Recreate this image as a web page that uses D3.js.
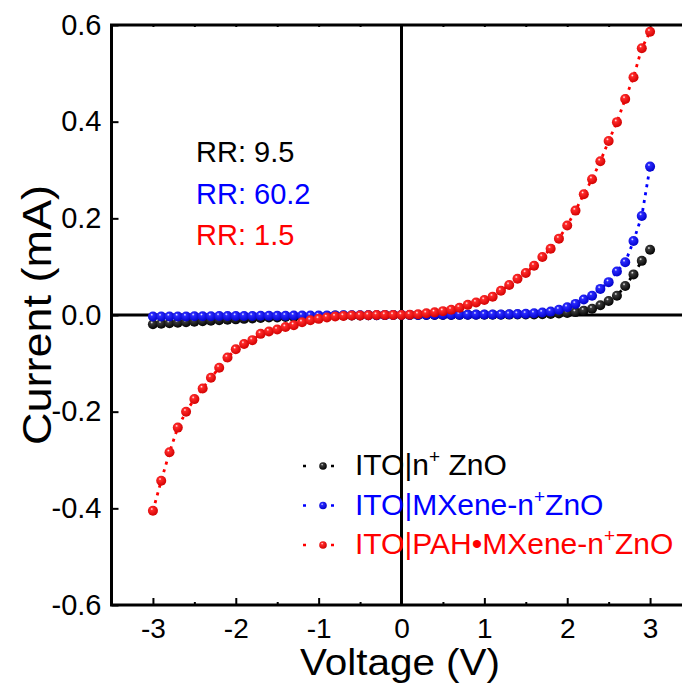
<!DOCTYPE html>
<html>
<head>
<meta charset="utf-8">
<script src="https://cdn.jsdelivr.net/npm/d3@7"></script>
<style>
  body { margin: 0; background: #fff; }
  text { font-family: "Liberation Sans", Arial, sans-serif; }
</style>
</head>
<body>
<div id="chart-div"></div>
<script>
// chart size, same as the window
const CHART_WIDTH = 682;
const CHART_HEIGHT = 685;
const PLOT = { left: 111.5, top: 25, right: 691.5, bottom: 605 };

// bias voltage, V (every 0.1 V)
const voltage = [
  -3.0, -2.9, -2.8, -2.7, -2.6, -2.5, -2.4, -2.3, -2.2, -2.1,
  -2.0, -1.9, -1.8, -1.7, -1.6, -1.5, -1.4, -1.3, -1.2, -1.1,
  -1.0, -0.9, -0.8, -0.7, -0.6, -0.5, -0.4, -0.3, -0.2, -0.1,
  0.0, 0.1, 0.2, 0.3, 0.4, 0.5, 0.6, 0.7, 0.8, 0.9,
  1.0, 1.1, 1.2, 1.3, 1.4, 1.5, 1.6, 1.7, 1.8, 1.9,
  2.0, 2.1, 2.2, 2.3, 2.4, 2.5, 2.6, 2.7, 2.8, 2.9, 3.0
];

// current, mA
const currentZnO = [
  -0.019, -0.018, -0.017, -0.016, -0.015, -0.014, -0.013, -0.012, -0.011, -0.010,
  -0.009, -0.008, -0.007, -0.006, -0.005, -0.005, -0.004, -0.004, -0.003, -0.003,
  -0.002, -0.002, -0.001, -0.001, -0.001, -0.001, -0.0005, -0.0005, 0, 0,
  0, 0, 0, 0, 0, 0, 0.0002, 0.0003, 0.0004, 0.0005,
  0.0005, 0.0006, 0.0007, 0.0008, 0.0009, 0.001, 0.0012, 0.0015, 0.002, 0.003,
  0.004, 0.006, 0.009, 0.013, 0.020, 0.029, 0.040, 0.060, 0.084, 0.112, 0.135
];

const currentMXene = [
  -0.003, -0.003, -0.003, -0.003, -0.003, -0.0025, -0.0025, -0.0025, -0.002, -0.002,
  -0.002, -0.002, -0.002, -0.0015, -0.0015, -0.0015, -0.0015, -0.001, -0.001, -0.001,
  -0.001, -0.001, -0.0008, -0.0006, -0.0005, -0.0005, -0.0004, -0.0003, -0.0002, -0.0001,
  0, 0.0001, 0.0002, 0.0003, 0.0004, 0.0005, 0.0005, 0.0006, 0.0007, 0.0008,
  0.0009, 0.001, 0.0012, 0.0015, 0.002, 0.0025, 0.0035, 0.005, 0.007, 0.011,
  0.016, 0.023, 0.032, 0.040, 0.054, 0.068, 0.090, 0.109, 0.153, 0.205, 0.307
];

const currentPAH = [
  -0.405, -0.343, -0.284, -0.233, -0.200, -0.174, -0.152, -0.130, -0.109, -0.088,
  -0.071, -0.060, -0.052, -0.039, -0.034, -0.030, -0.025, -0.021, -0.015, -0.011,
  -0.008, -0.005, -0.003, -0.002, -0.001, -0.001, -0.0005, 0, 0, 0,
  0, 0.0005, 0.0015, 0.0035, 0.0055, 0.008, 0.011, 0.015, 0.021, 0.026,
  0.031, 0.038, 0.050, 0.062, 0.075, 0.087, 0.102, 0.120, 0.137, 0.158,
  0.185, 0.216, 0.250, 0.281, 0.318, 0.360, 0.399, 0.447, 0.492, 0.552, 0.586
];

const seriesNames = ["ITO|n+ ZnO", "ITO|MXene-n+ZnO", "ITO|PAH\u2022MXene-n+ZnO"];
const seriesColors = ["#000000", "#0000ff", "#ff0000"];
const rectRatios = ["RR: 9.5", "RR: 60.2", "RR: 1.5"];

const xTicks = [-3, -2, -1, 0, 1, 2, 3];
const xMinorTicks = [-3.5, -2.5, -1.5, -0.5, 0.5, 1.5, 2.5, 3.5];
const yTicks = [-0.6, -0.4, -0.2, 0.0, 0.2, 0.4, 0.6];

const allSeries = [currentZnO, currentMXene, currentPAH];

const svg = d3.select("#chart-div").append("svg")
  .attr("width", CHART_WIDTH)
  .attr("height", CHART_HEIGHT);

const xscale = d3.scaleLinear().domain([-3.5, 3.5]).range([PLOT.left, PLOT.right]);
const yscale = d3.scaleLinear().domain([-0.6, 0.6]).range([PLOT.bottom, PLOT.top]);

// shaded ball markers
const defs = svg.append("defs");
const darkColors = ["#000000", "#0000c8", "#d00000"];
const midColors = ["#3a3a3a", "#2a2aff", "#ff2a2a"];
seriesColors.forEach((c, i) => {
  const g = defs.append("radialGradient")
    .attr("id", "ball" + i)
    .attr("cx", "40%").attr("cy", "38%").attr("r", "65%")
    .attr("fx", "38%").attr("fy", "32%");
  g.append("stop").attr("offset", "0%").attr("stop-color", "#ffffff");
  g.append("stop").attr("offset", "22%").attr("stop-color", midColors[i]);
  g.append("stop").attr("offset", "100%").attr("stop-color", darkColors[i]);
});

// frame
svg.append("rect")
  .attr("x", PLOT.left).attr("y", PLOT.top)
  .attr("width", PLOT.right - PLOT.left).attr("height", PLOT.bottom - PLOT.top)
  .attr("fill", "none").attr("stroke", "#000").attr("stroke-width", 3);

// zero lines
svg.append("line")
  .attr("x1", xscale(0)).attr("x2", xscale(0))
  .attr("y1", PLOT.top).attr("y2", PLOT.bottom)
  .attr("stroke", "#000").attr("stroke-width", 3);
svg.append("line")
  .attr("x1", PLOT.left).attr("x2", PLOT.right)
  .attr("y1", yscale(0)).attr("y2", yscale(0))
  .attr("stroke", "#000").attr("stroke-width", 3);

// axes (ticks point inward)
const fmtY = (d) => (d < 0 ? "-" : "") + Math.abs(d).toFixed(1);
const fmtX = (d) => (d < 0 ? "-" : "") + Math.abs(d);

const xAxis = svg.append("g")
  .attr("transform", `translate(0, ${PLOT.bottom})`)
  .call(d3.axisBottom(xscale).tickValues(xTicks).tickSize(-7).tickPadding(13).tickFormat(fmtX));
const xMinor = svg.append("g")
  .attr("transform", `translate(0, ${PLOT.bottom})`)
  .call(d3.axisBottom(xscale).tickValues(xMinorTicks).tickSize(-3).tickFormat(""));
const xTop = svg.append("g")
  .attr("transform", `translate(0, ${PLOT.top})`)
  .call(d3.axisTop(xscale).tickValues(xTicks.concat(xMinorTicks)).tickSize(-2).tickFormat(""));
const yAxis = svg.append("g")
  .attr("transform", `translate(${PLOT.left}, 0)`)
  .call(d3.axisLeft(yscale).tickValues(yTicks).tickSize(-7).tickPadding(10).tickFormat(fmtY));

[xAxis, xMinor, xTop, yAxis].forEach((a) => {
  a.select(".domain").remove();
  a.selectAll(".tick line").attr("stroke", "#000").attr("stroke-width", 2);
  a.selectAll("text").attr("fill", "#000").style("font-family", "Liberation Sans, Arial, sans-serif");
});
xAxis.selectAll("text").style("font-size", "28px");
yAxis.selectAll("text").style("font-size", "29px");

// axis titles
svg.append("text")
  .attr("x", 400)
  .attr("y", 675)
  .attr("text-anchor", "middle")
  .attr("textLength", 200)
  .attr("lengthAdjust", "spacingAndGlyphs")
  .style("font-size", "37px")
  .text("Voltage (V)");
svg.append("text")
  .attr("transform", `translate(51, ${yscale(0)}) rotate(-90)`)
  .attr("text-anchor", "middle")
  .attr("textLength", 260)
  .attr("lengthAdjust", "spacingAndGlyphs")
  .style("font-size", "40px")
  .text("Current (mA)");

// series: dotted line + balls
const line = d3.line()
  .x((d, i) => xscale(voltage[i]))
  .y((d) => yscale(d));

allSeries.forEach((values, s) => {
  const g = svg.append("g");
  g.append("path")
    .datum(values)
    .attr("d", line)
    .attr("fill", "none")
    .attr("stroke", seriesColors[s])
    .attr("stroke-width", 2.8)
    .attr("stroke-dasharray", "3,5");
  g.selectAll("circle")
    .data(values)
    .enter()
    .append("circle")
    .attr("cx", (d, i) => xscale(voltage[i]))
    .attr("cy", (d) => yscale(d))
    .attr("r", 5)
    .attr("fill", `url(#ball${s})`);
});

// rectification ratios
rectRatios.forEach((t, i) => {
  svg.append("text")
    .attr("x", 196)
    .attr("y", 162 + i * 41.5)
    .attr("fill", seriesColors[i])
    .style("font-size", "29px")
    .text(t);
});

// legend
const legend = svg.append("g");
seriesNames.forEach((name, i) => {
  const y = 466 + i * 39.5;
  legend.append("line")
    .attr("x1", 303).attr("x2", 335)
    .attr("y1", y).attr("y2", y)
    .attr("stroke", seriesColors[i])
    .attr("stroke-width", 2.5)
    .attr("stroke-dasharray", "3,25");
  legend.append("circle")
    .attr("cx", 323).attr("cy", y).attr("r", 3.8)
    .attr("fill", `url(#ball${i})`);
  const txt = legend.append("text")
    .attr("x", 355)
    .attr("y", y + 9)
    .attr("fill", seriesColors[i])
    .style("font-size", "30px");
  const parts = name.split("+");
  txt.append("tspan").text(parts[0]);
  txt.append("tspan").attr("dy", -12).style("font-size", "19px").text("+");
  txt.append("tspan").attr("dy", 12).text(parts[1]);
});
</script>
</body>
</html>
